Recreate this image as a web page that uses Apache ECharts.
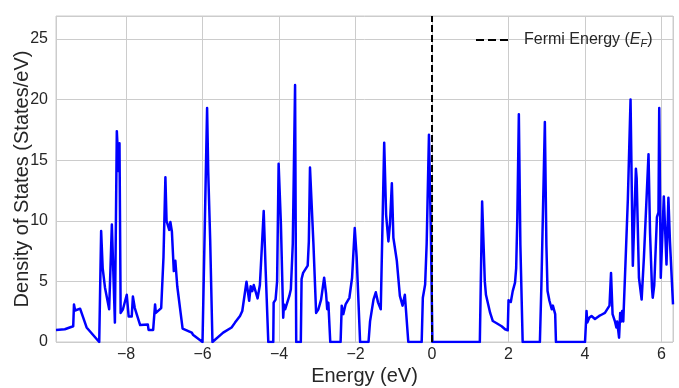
<!DOCTYPE html>
<html><head><meta charset="utf-8">
<script src="https://cdn.jsdelivr.net/npm/echarts@6/dist/echarts.min.js"></script>
<style>html,body{margin:0;padding:0;background:#fff}#c{width:679px;height:388px}</style>
</head><body><div id="c"></div>
<script>
const energy = [
 -9.83,-9.60,-9.57,-9.38,-9.36,-9.33,-9.20,-9.03,-8.70,-8.65,-8.61,-8.55,-8.44,-8.37,-8.34,-8.29,-8.24,-8.21,-8.19,-8.17,
 -8.14,-8.08,-7.98,-7.93,-7.85,-7.82,-7.77,-7.63,-7.43,-7.41,-7.29,-7.24,-7.22,-7.08,-7.02,-6.97,-6.94,-6.87,-6.84,-6.80,
 -6.75,-6.71,-6.66,-6.63,-6.52,-6.28,-6.25,-6.00,-5.88,-5.85,-5.80,-5.74,-5.46,-5.24,-5.15,-5.02,-4.96,-4.85,-4.82,-4.78,
 -4.74,-4.70,-4.66,-4.56,-4.50,-4.40,-4.35,-4.28,-4.15,-4.14,-4.09,-4.05,-4.01,-3.99,-3.95,-3.89,-3.87,-3.84,-3.73,-3.69,
 -3.64,-3.58,-3.55,-3.43,-3.41,-3.37,-3.32,-3.25,-3.22,-3.19,-3.16,-3.10,-3.03,-2.97,-2.90,-2.82,-2.77,-2.74,-2.71,-2.66,
 -2.39,-2.36,-2.32,-2.26,-2.16,-2.09,-2.02,-1.97,-1.88,-1.66,-1.62,-1.53,-1.47,-1.41,-1.34,-1.25,-1.20,-1.14,-1.10,-1.05,
 -1.01,-0.92,-0.84,-0.77,-0.71,-0.62,-0.27,-0.24,-0.18,-0.14,-0.08,-0.03,0.01,1.25,1.31,1.34,1.38,1.41,1.52,1.59,
 1.69,1.82,1.91,1.98,2.00,2.04,2.06,2.11,2.17,2.20,2.23,2.27,2.31,2.37,2.82,2.86,2.95,2.99,3.02,3.07,
 3.13,3.16,3.20,3.22,3.24,4.00,4.04,4.06,4.11,4.17,4.26,4.37,4.43,4.52,4.64,4.68,4.72,4.78,4.82,4.84,
 4.89,4.92,4.95,4.97,5.00,5.06,5.12,5.16,5.19,5.25,5.33,5.35,5.41,5.48,5.54,5.59,5.66,5.70,5.75,5.77,
 5.81,5.88,5.92,5.94,5.98,6.01,6.06,6.09,6.13,6.18,6.22,6.30
];
const dos = [
 1.0,1.05,1.15,1.3,3.1,2.6,2.75,1.2,0.0,9.15,6.1,4.5,2.7,9.7,9.8,1.6,17.4,17.3,14.1,16.4,
 2.4,2.7,3.9,2.1,2.1,3.75,2.8,1.4,1.45,1.0,1.0,3.1,2.4,2.8,7.0,13.6,10.0,9.25,9.9,9.1,
 5.85,6.7,4.6,4.7,1.1,0.77,0.6,0.0,19.3,14.0,8.5,0.0,0.77,1.2,1.6,2.15,2.56,4.97,4.97,3.4,
 4.6,4.2,4.7,3.6,4.7,10.8,6.0,0.0,0.0,3.25,3.5,5.0,14.7,14.6,9.7,2.0,3.1,2.7,3.8,4.35,
 8.1,21.2,0.0,0.0,5.2,5.7,5.8,6.3,8.3,14.4,14.3,8.1,2.4,2.7,3.5,5.3,4.0,2.7,3.25,0.0,
 0.0,3.0,2.3,3.1,3.65,5.3,9.4,7.0,0.0,0.0,1.7,3.5,4.1,3.25,2.7,16.45,10.5,8.3,9.7,13.1,
 8.6,6.7,3.8,3.0,3.9,0.0,0.0,3.65,4.75,8.1,17.1,9.0,0.0,0.0,11.6,11.6,5.0,3.9,2.4,1.73,
 1.55,1.3,1.05,0.97,3.45,3.5,3.3,4.2,4.9,6.1,10.2,18.8,8.0,0.0,0.0,4.75,18.15,8.0,4.2,3.4,
 2.7,3.0,3.0,2.3,0.0,0.0,2.56,1.6,2.0,2.15,1.9,2.15,2.25,2.4,3.0,5.7,2.3,1.73,1.2,1.7,
 0.36,2.4,1.7,2.56,1.7,6.7,11.8,11.8,20.0,6.3,14.3,13.5,5.3,3.5,7.0,7.1,15.5,9.0,4.5,3.65,
 4.7,10.3,10.7,19.3,5.3,5.3,12.0,11.9,6.4,11.9,8.3,3.1
];
const fermiEnergy = 0;
const xTicks = [-8, -6, -4, -2, 0, 2, 4, 6];
const yTicks = [0, 5, 10, 15, 20, 25];
const xRange = [-9.83, 6.30];
const yRange = [0, 26.9];

const FONT = "'Liberation Sans', Arial, sans-serif";
const TXT = '#262626';
const chart = echarts.init(document.getElementById('c'), null, {renderer: 'canvas'});
chart.setOption({
  animation: false,
  backgroundColor: '#ffffff',
  textStyle: {fontFamily: FONT},
  grid: {left: 56, right: 6, top: 16, bottom: 46, outerBoundsMode: 'none', containLabel: false,
         show: true, borderColor: '#cccccc', borderWidth: 1, backgroundColor: 'transparent'},
  legend: {
    left: 476, top: 32, padding: 0, itemWidth: 32, itemHeight: 2.5,
    data: [{name: 'Fermi', icon: 'path://M0,0h8v2h-8z M12,0h8v2h-8z M24,0h8v2h-8z'}],
    itemStyle: {color: '#000000'},
    formatter: () => 'Fermi Energy ({i|E}{s|F})',
    textStyle: {fontFamily: FONT, fontSize: 16, color: TXT, padding: [0, 0, 0, 11],
      rich: {i: {fontFamily: FONT, fontSize: 16, fontStyle: 'italic', color: TXT},
             s: {fontFamily: FONT, fontSize: 11, fontStyle: 'italic', color: TXT, padding: [7, 0, 0, 0]}}}
  },
  xAxis: {
    type: 'value', min: xRange[0], max: xRange[1], splitNumber: 8,
    name: 'Energy (eV)', nameLocation: 'middle', nameGap: 24, nameMoveOverlap: false,
    nameTextStyle: {fontFamily: FONT, fontSize: 20, color: TXT},
    axisLine: {show: false}, axisTick: {show: false},
    axisLabel: {fontFamily: FONT, fontSize: 16, color: TXT, margin: 5, showMinLabel: true, showMaxLabel: true,
      formatter: v => xTicks.some(t => Math.abs(t - v) < 1e-6) ? String(Math.round(v)).replace('-', '\u2212') : ''},
    splitLine: {show: true, lineStyle: {color: '#cccccc', width: 1}}
  },
  yAxis: {
    type: 'value', min: yRange[0], max: yRange[1], interval: 5,
    name: 'Density of States (States/eV)', nameLocation: 'middle', nameGap: 24, nameMoveOverlap: false,
    nameTextStyle: {fontFamily: FONT, fontSize: 20, color: TXT},
    axisLine: {show: false}, axisTick: {show: false},
    axisLabel: {fontFamily: FONT, fontSize: 16, color: TXT, margin: 8,
      formatter: v => yTicks.some(t => Math.abs(t - v) < 1e-6) ? String(Math.round(v)) : ''},
    splitLine: {show: true, lineStyle: {color: '#cccccc', width: 1}}
  },
  series: [
    {name: 'DOS', type: 'line', data: energy.map((e, i) => [e, dos[i]]), symbol: 'none',
     lineStyle: {color: '#0000ff', width: 2.5, join: 'round'}, itemStyle: {color: '#0000ff'}, z: 2},
    {name: 'Fermi', type: 'line', data: [[fermiEnergy, yRange[0]], [fermiEnergy, yRange[1]]], symbol: 'none',
     lineStyle: {color: '#000000', width: 2, type: [7, 3]}, itemStyle: {color: '#000000'}, z: 3}
  ]
});
</script></body></html>
